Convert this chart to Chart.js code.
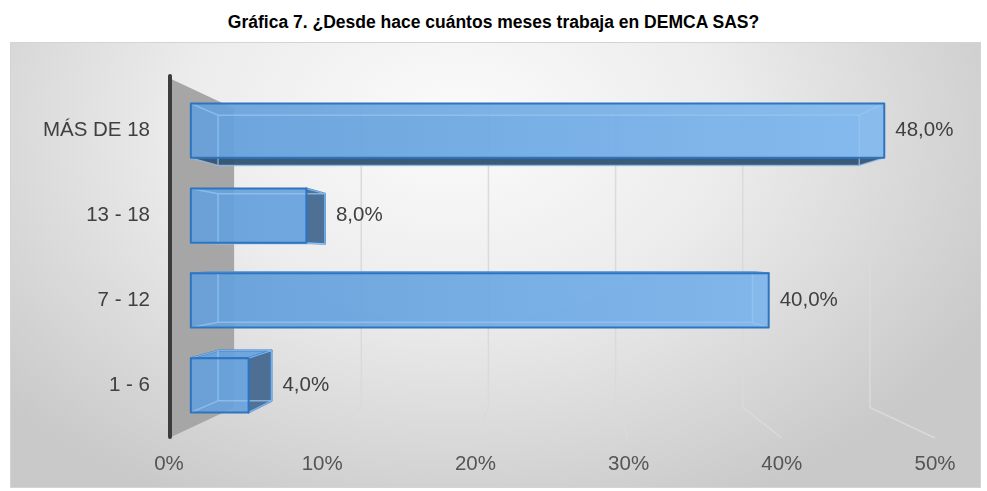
<!DOCTYPE html>
<html lang="es">
<head>
<meta charset="utf-8">
<title>Gráfica 7</title>
<script src="https://cdn.jsdelivr.net/npm/chart.js@4.4.1/dist/chart.umd.min.js"></script>
<style>
    html, body { margin: 0; padding: 0; background: #ffffff; }
    #wrap { position: relative; width: 987px; height: 491px; }
    #titulo {
        position: absolute; left: 0; top: 11px; width: 987px;
        text-align: center; font: bold 17.5px "Liberation Sans", Arial, sans-serif;
        color: #000000; line-height: 22px;
    }
    #fondo {
        position: absolute; left: 10px; top: 42px; width: 969px; height: 444px;
        border: 1px solid #d4d4d4;
        background: radial-gradient(ellipse 62% 95% at 46% 18%, #fbfbfb 0%, #ececec 45%, #c9c9c9 100%);
    }
    #grafica { position: absolute; left: 0; top: 0; }
</style>
</head>
<body>
<div id="wrap">
    <div id="titulo">Gráfica 7. ¿Desde hace cuántos meses trabaja en DEMCA SAS?</div>
    <div id="fondo"></div>
    <canvas id="grafica" width="987" height="491"></canvas>
</div>
<script>
// Datos de la encuesta
const categorias = ['MÁS DE 18', '13 - 18', '7 - 12', '1 - 6'];
const porcentajes = [48.0, 8.0, 40.0, 4.0];
const ejeMin = 0;
const ejeMax = 50;
const ejePaso = 10;

const fuente = '"Liberation Sans", Arial, sans-serif';

document.addEventListener('DOMContentLoaded', function() {
    // Escalas de perspectiva: cara frontal de la barra, cara trasera y pared del fondo
    const escFrente = 0.943;
    const escFondo = 0.872;
    const escPared = 0.83;

    function proyectar(area, x, y, s) {
        const cx = (area.left + area.right) / 2;
        const cy = (area.top + area.bottom) / 2;
        return [cx + (x - cx) * s, cy + (y - cy) * s];
    }

    function poligono(ctx, puntos) {
        ctx.beginPath();
        ctx.moveTo(puntos[0][0], puntos[0][1]);
        for (let i = 1; i < puntos.length; i++) ctx.lineTo(puntos[i][0], puntos[i][1]);
        ctx.closePath();
    }

    // Pared lateral gris, eje vertical y líneas de división en perspectiva
    const paredes = {
        id: 'paredes',
        beforeDatasetsDraw(chart) {
            const ctx = chart.ctx;
            const a = chart.chartArea;
            const xs = chart.scales.x;

            ctx.save();
            const atrasArriba = proyectar(a, a.left, a.top, escPared);
            const atrasAbajo = proyectar(a, a.left, a.bottom, escPared);
            poligono(ctx, [[a.left, a.top], atrasArriba, atrasAbajo, [a.left, a.bottom]]);
            ctx.fillStyle = '#a6a6a6';
            ctx.fill();

            ctx.strokeStyle = '#dadada';
            ctx.lineWidth = 1.5;
            for (let v = ejeMin + ejePaso; v <= ejeMax; v += ejePaso) {
                const px = xs.getPixelForValue(v);
                const arriba = proyectar(a, px, a.top, escPared);
                const abajo = proyectar(a, px, a.bottom, escPared);
                ctx.beginPath();
                ctx.moveTo(arriba[0], arriba[1]);
                ctx.lineTo(abajo[0], abajo[1]);
                ctx.lineTo(px, a.bottom);
                ctx.stroke();
            }

            ctx.strokeStyle = '#3c3c3c';
            ctx.lineWidth = 4;
            ctx.lineCap = 'round';
            ctx.beginPath();
            ctx.moveTo(a.left + 1, a.top - 2);
            ctx.lineTo(a.left + 1, a.bottom - 1);
            ctx.stroke();
            ctx.restore();
        }
    };

    // Barras en 3D, etiquetas de categoría y de valor
    const barras3d = {
        id: 'barras3d',
        afterDatasetsDraw(chart) {
            const ctx = chart.ctx;
            const a = chart.chartArea;
            const cx = (a.left + a.right) / 2;
            const cy = (a.top + a.bottom) / 2;
            const meta = chart.getDatasetMeta(0);

            const degradado = ctx.createLinearGradient(a.left, 0, a.right, 0);
            degradado.addColorStop(0, 'rgba(100, 159, 217, 0.92)');
            degradado.addColorStop(1, 'rgba(132, 187, 240, 0.92)');

            ctx.save();
            ctx.lineJoin = 'round';
            meta.data.forEach((barra, i) => {
                const p = barra.getProps(['x', 'y', 'base', 'height'], true);
                const b = p.base, e = p.x;
                const t = p.y - p.height / 2, u = p.y + p.height / 2;

                const F = [proyectar(a, b, t, escFrente), proyectar(a, e, t, escFrente),
                           proyectar(a, e, u, escFrente), proyectar(a, b, u, escFrente)];
                const B = [proyectar(a, b, t, escFondo), proyectar(a, e, t, escFondo),
                           proyectar(a, e, u, escFondo), proyectar(a, b, u, escFondo)];

                // cara trasera
                poligono(ctx, B);
                ctx.fillStyle = 'rgba(91, 155, 213, 0.45)';
                ctx.fill();

                // caras visibles según la posición respecto al punto de fuga
                ctx.strokeStyle = '#2e74bf';
                ctx.lineWidth = 2;
                if (u < cy) {
                    poligono(ctx, [F[3], F[2], B[2], B[3]]);
                    ctx.fillStyle = 'rgba(52, 80, 112, 0.92)';
                    ctx.fill();
                }
                if (t > cy) {
                    poligono(ctx, [F[0], F[1], B[1], B[0]]);
                    ctx.fillStyle = 'rgba(104, 162, 222, 0.9)';
                    ctx.fill();
                    ctx.stroke();
                }
                if (e < cx) {
                    poligono(ctx, [F[1], B[1], B[2], F[2]]);
                    ctx.fillStyle = 'rgba(70, 104, 142, 0.92)';
                    ctx.fill();
                    ctx.stroke();
                }

                // cara frontal
                poligono(ctx, F);
                ctx.fillStyle = degradado;
                ctx.fill();

                // aristas traseras que se ven a través de la transparencia
                ctx.strokeStyle = 'rgba(150, 196, 242, 0.75)';
                ctx.lineWidth = 1.5;
                poligono(ctx, B);
                ctx.stroke();
                for (let k = 0; k < 4; k++) {
                    ctx.beginPath();
                    ctx.moveTo(F[k][0], F[k][1]);
                    ctx.lineTo(B[k][0], B[k][1]);
                    ctx.stroke();
                }

                ctx.strokeStyle = '#2e74bf';
                ctx.lineWidth = 2;
                poligono(ctx, F);
                ctx.stroke();

                // etiqueta de valor
                const yTexto = (F[0][1] + F[3][1]) / 2;
                const xTexto = Math.max(F[1][0], B[1][0]) + 11;
                ctx.font = '20.5px ' + fuente;
                ctx.fillStyle = '#404040';
                ctx.textBaseline = 'middle';
                ctx.textAlign = 'left';
                ctx.fillText(porcentajes[i].toFixed(1).replace('.', ',') + '%', xTexto, yTexto);

                // etiqueta de categoría
                ctx.textAlign = 'right';
                ctx.fillText(categorias[i], a.left - 19, yTexto);
            });
            ctx.restore();
        }
    };

    const ctx = document.getElementById('grafica').getContext('2d');
    const grafica = new Chart(ctx, {
        type: 'bar',
        data: {
            labels: categorias,
            datasets: [{
                label: 'Porcentaje',
                data: porcentajes,
                backgroundColor: 'rgba(0, 0, 0, 0)',
                borderWidth: 0,
                barPercentage: 0.64,
                categoryPercentage: 1
            }]
        },
        options: {
            indexAxis: 'y',
            responsive: false,
            animation: false,
            layout: {
                padding: { left: 169, right: 52, top: 78, bottom: 0 }
            },
            plugins: {
                legend: { display: false },
                tooltip: { enabled: false },
                title: { display: false }
            },
            scales: {
                x: {
                    min: ejeMin,
                    max: ejeMax,
                    grid: { display: false, drawTicks: false },
                    border: { display: false },
                    ticks: {
                        stepSize: ejePaso,
                        padding: 14,
                        color: '#555555',
                        font: { family: fuente, size: 20.5 },
                        callback: v => v + '%'
                    },
                    afterFit: scale => { scale.height = 53; }
                },
                y: {
                    display: false
                }
            }
        },
        plugins: [paredes, barras3d]
    });
});
</script>
</body>
</html>
